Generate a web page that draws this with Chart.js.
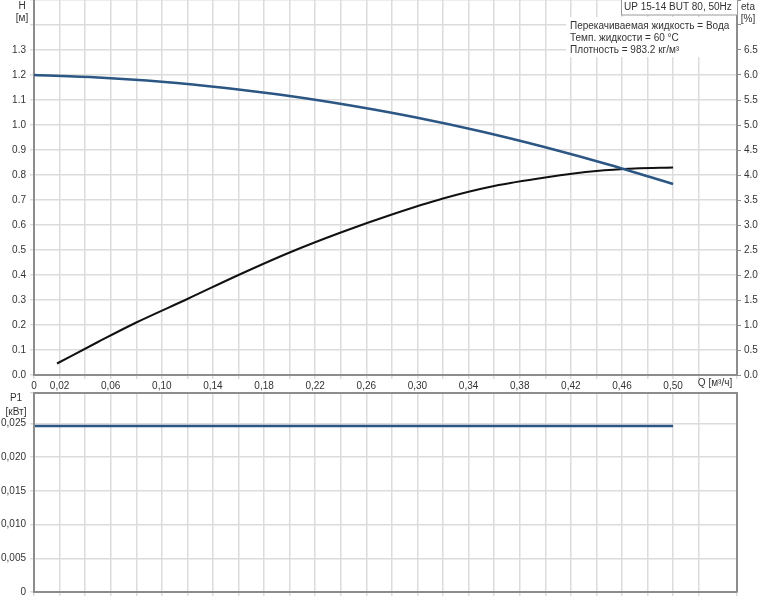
<!DOCTYPE html>
<html>
<head>
<meta charset="utf-8">
<script src="https://cdn.jsdelivr.net/npm/chart.js@4.4.0/dist/chart.umd.min.js"></script>
<style>
    body { margin: 0; background: #fff; }
    #top { position: absolute; left: 0; top: 0; }
    #bot { position: absolute; left: 0; top: 390px; }
</style>
</head>
<body>
<canvas id="top" width="760" height="392"></canvas>
<canvas id="bot" width="760" height="210"></canvas>
<script>
// Q [m3/h] points for the head curve
const qH = [0, 0.05, 0.10, 0.15, 0.20, 0.25, 0.30, 0.35, 0.40, 0.45, 0.50];
const head = [1.200, 1.190, 1.173, 1.148, 1.116, 1.076, 1.029, 0.974, 0.911, 0.841, 0.764];

// Q points for the efficiency curve
const qEta = [0.018, 0.05, 0.08, 0.12, 0.16, 0.20, 0.24, 0.28, 0.32, 0.36, 0.40, 0.44, 0.47, 0.50];
const eta = [0.23, 0.66, 1.05, 1.52, 2.00, 2.45, 2.85, 3.21, 3.53, 3.78, 3.95, 4.08, 4.13, 4.15];

// P1 [kW]
const qP = [0, 0.50];
const p1 = [0.0246, 0.0246];

const xLabelTicks = [0, 0.02, 0.06, 0.10, 0.14, 0.18, 0.22, 0.26, 0.30, 0.34, 0.38, 0.42, 0.46, 0.50];

const FONT = "'Liberation Sans', Arial, sans-serif";
const gridColor = "#dcdcdc";
const axisColor = "#8c8c8c";
const tickFont = { family: FONT, size: 10 };

function pts(xs, ys) {
    return xs.map(function (x, i) { return { x: x, y: ys[i] }; });
}

function showX(v) {
    return xLabelTicks.some(function (t) { return Math.abs(t - v) < 1e-6; });
}

// no extra room for half labels above / below the plot
function noPad(s) {
    s.paddingTop = 0;
    s.paddingBottom = 0;
}

const topText = {
    id: "topText",
    afterDraw: function (chart) {
        const c = chart.ctx;
        c.save();
        c.font = "10px " + FONT;
        c.fillStyle = "#333";
        c.textAlign = "center";
        c.textBaseline = "middle";
        c.fillText("H", 22, 6);
        c.fillText("[м]", 22, 18);
        c.fillText("eta", 748, 7);
        c.fillText("[%]", 748, 19);
        c.fillText("Q [м³/ч]", 715, 383);

        // info box
        c.fillStyle = "#fff";
        c.fillRect(566, 17, 170, 40);
        c.fillRect(621, 0, 116, 15);
        c.strokeStyle = "#999";
        c.lineWidth = 1;
        c.strokeRect(621.5, -1, 116, 16);
        c.fillStyle = "#333";
        c.textAlign = "left";
        c.fillText("UP 15-14 BUT 80, 50Hz", 624, 7);
        c.fillText("Перекачиваемая жидкость = Вода", 570, 26);
        c.fillText("Темп. жидкости = 60 °C", 570, 38);
        c.fillText("Плотность = 983.2 кг/м³", 570, 50);
        c.restore();
    },
};

const botText = {
    id: "botText",
    afterDraw: function (chart) {
        const c = chart.ctx;
        const a = chart.chartArea;
        c.save();
        c.strokeStyle = axisColor;
        c.lineWidth = 2;
        c.beginPath();
        c.moveTo(a.left, a.bottom);
        c.lineTo(a.left, a.top);
        c.lineTo(a.right, a.top);
        c.lineTo(a.right, a.bottom);
        c.stroke();
        c.font = "10px " + FONT;
        c.fillStyle = "#333";
        c.textAlign = "center";
        c.textBaseline = "middle";
        c.fillText("P1", 16, 8);
        c.fillText("[кВт]", 16, 22);
        c.restore();
    },
};

new Chart(document.getElementById("top").getContext("2d"), {
    type: "line",
    data: {
        datasets: [
            {
                data: pts(qH, head),
                yAxisID: "y",
                borderColor: "#2c5683",
                borderWidth: 2.5,
                pointRadius: 0,
                cubicInterpolationMode: "monotone",
            },
            {
                data: pts(qEta, eta),
                yAxisID: "y2",
                borderColor: "#111",
                borderWidth: 2,
                pointRadius: 0,
                cubicInterpolationMode: "monotone",
            },
        ],
    },
    options: {
        responsive: false,
        animation: false,
        layout: { padding: 0 },
        plugins: { legend: { display: false }, tooltip: { enabled: false } },
        scales: {
            x: {
                type: "linear",
                min: 0,
                max: 0.55,
                afterFit: function (s) { s.height = 17; },
                ticks: {
                    stepSize: 0.02,
                    autoSkip: false,
                    maxRotation: 0,
                    padding: 1,
                    color: "#333",
                    font: tickFont,
                    callback: function (v) {
                        if (!showX(v)) return "";
                        return v == 0 ? "0" : v.toFixed(2).replace(".", ",");
                    },
                },
                grid: { color: gridColor, lineWidth: 1.5, tickLength: 4 },
                border: { color: axisColor, width: 2 },
            },
            y: {
                position: "left",
                min: 0,
                max: 1.5,
                afterFit: function (s) { s.width = 34; noPad(s); },
                ticks: {
                    stepSize: 0.1,
                    padding: 4,
                    color: "#333",
                    font: tickFont,
                    callback: function (v) { return v > 1.35 ? "" : v.toFixed(1); },
                },
                grid: { color: gridColor, lineWidth: 1.5, tickLength: 4 },
                border: { color: axisColor, width: 2 },
            },
            y2: {
                position: "right",
                min: 0,
                max: 7.5,
                afterFit: function (s) { s.width = 23; noPad(s); },
                ticks: {
                    stepSize: 0.5,
                    padding: 3,
                    color: "#333",
                    font: tickFont,
                    callback: function (v) { return v > 6.75 ? "" : v.toFixed(1); },
                },
                grid: { drawOnChartArea: false, color: axisColor, tickLength: 4 },
                border: { color: axisColor, width: 2 },
            },
        },
    },
    plugins: [topText],
});

new Chart(document.getElementById("bot").getContext("2d"), {
    type: "line",
    data: {
        datasets: [
            {
                data: pts(qP, p1),
                borderColor: "#2c5683",
                borderWidth: 2.5,
                pointRadius: 0,
            },
        ],
    },
    options: {
        responsive: false,
        animation: false,
        layout: { padding: { top: 3, right: 23 } },
        plugins: { legend: { display: false }, tooltip: { enabled: false } },
        scales: {
            x: {
                type: "linear",
                min: 0,
                max: 0.55,
                afterFit: function (s) { s.height = 8; },
                ticks: { stepSize: 0.02, display: false },
                grid: { color: gridColor, lineWidth: 1.5, tickLength: 4 },
                border: { color: axisColor, width: 2 },
            },
            y: {
                min: 0,
                max: 0.0295,
                afterFit: function (s) { s.width = 34; noPad(s); },
                ticks: {
                    stepSize: 0.005,
                    padding: 4,
                    color: "#333",
                    font: tickFont,
                    callback: function (v) {
                        if (v > 0.0275) return "";
                        return v == 0 ? "0" : v.toFixed(3).replace(".", ",");
                    },
                },
                grid: { color: gridColor, lineWidth: 1.5, tickLength: 4 },
                border: { color: axisColor, width: 2 },
            },
        },
    },
    plugins: [botText],
});
</script>
</body>
</html>
